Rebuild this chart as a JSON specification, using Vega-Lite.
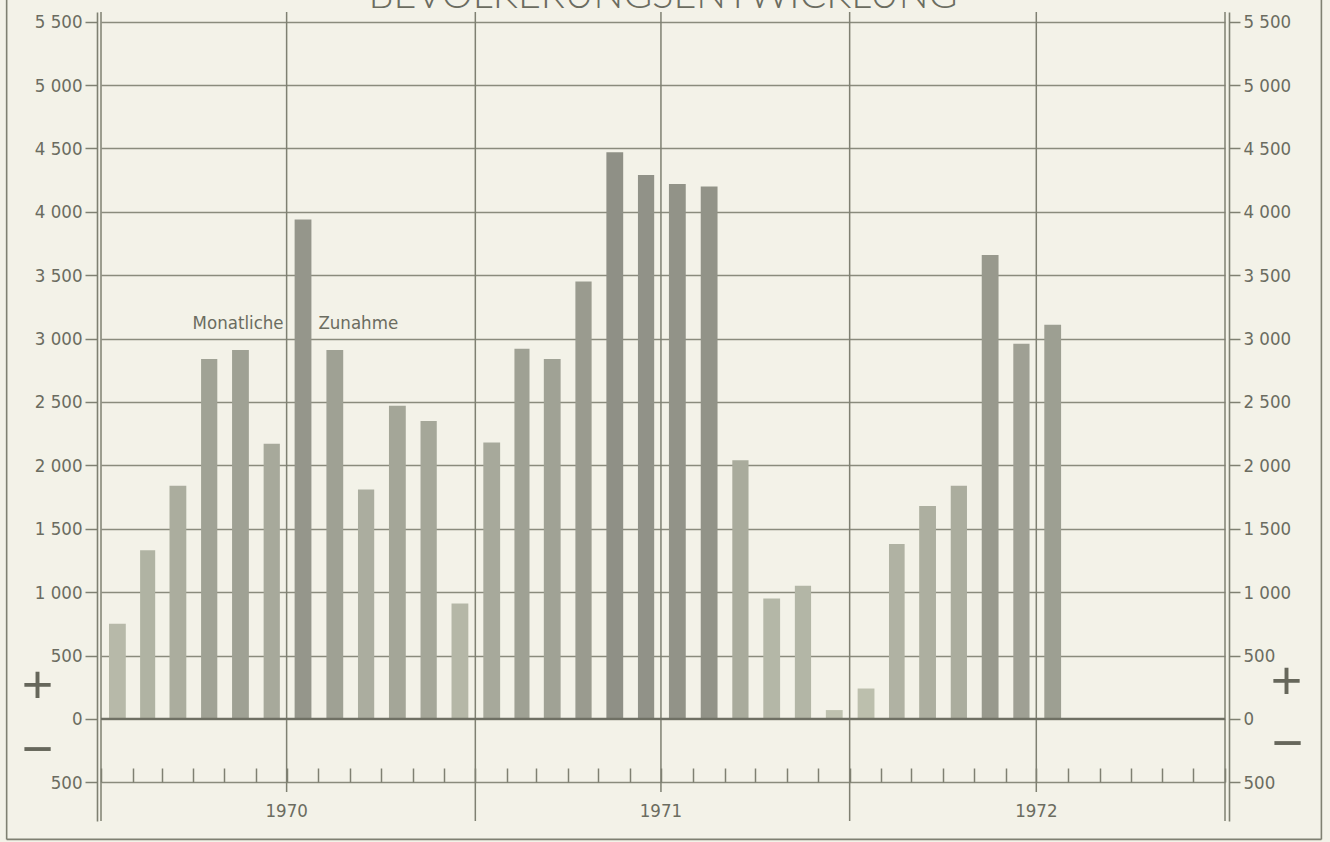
{
  "$schema": "https://vega.github.io/schema/vega-lite/v6.json",
  "width": 1124,
  "height": 809,
  "autosize": {"type": "none"},
  "padding": {"left": 101, "top": 12, "right": 105, "bottom": 21},
  "background": "#f3f2e8",
  "config": {
    "view": {"stroke": null},
    "font": "DejaVu Sans Condensed, Roboto, sans-serif",
    "axis": {
      "labelFont": "DejaVu Sans Condensed, Roboto, sans-serif",
      "labelFontSize": 18.5,
      "labelColor": "#6b6c60",
      "tickColor": "#7f8072",
      "domainColor": "#7f8072",
      "gridColor": "#8a8b7d",
      "tickWidth": 1.5,
      "domainWidth": 1.6,
      "gridWidth": 1.3,
      "title": null
    }
  },
  "layer": [
    {
      "layer": [
        {
          "data": {"values": [{}]},
          "mark": {"type": "rule", "color": "#7f8072", "strokeWidth": 1.6},
          "encoding": {
            "x": {"datum": {"year": 1969, "month": 10, "date": 1, "utc": true}, "type": "temporal", "scale": {"type": "utc", "domain": [{"year": 1970, "month": 1, "date": 1, "utc": true}, {"year": 1973, "month": 1, "date": 1, "utc": true}], "nice": false}},
            "y": {"datum": -950, "type": "quantitative", "scale": {"domain": [-805, 5576], "nice": false, "zero": false}},
            "y2": {"datum": 5700}
          }
        },
        {
          "data": {"values": [{}]},
          "mark": {"type": "rule", "color": "#7f8072", "strokeWidth": 1.6},
          "encoding": {
            "x": {"datum": {"year": 1973, "month": 4, "date": 5, "utc": true}, "type": "temporal"},
            "y": {"datum": -950, "type": "quantitative"},
            "y2": {"datum": 5700}
          }
        },
        {
          "data": {"values": [{}]},
          "mark": {"type": "rule", "color": "#7f8072", "strokeWidth": 1.6},
          "encoding": {
            "x": {"datum": {"year": 1969, "month": 10, "date": 1, "utc": true}, "type": "temporal"},
            "x2": {"datum": {"year": 1973, "month": 4, "date": 5, "utc": true}},
            "y": {"datum": -950, "type": "quantitative"}
          }
        },
        {
          "data": {"values": [{"d": "1970-01-01"}, {"d": "1971-01-01"}, {"d": "1972-01-01"}, {"d": "1973-01-01"}]},
          "mark": {"type": "rule", "color": "#7f8072", "strokeWidth": 1.5},
          "encoding": {
            "x": {"field": "d", "type": "temporal"},
            "y": {"datum": -805, "type": "quantitative"},
            "y2": {"datum": 5576}
          }
        },
        {
          "data": {"values": [{"d": "1970-07-01"}, {"d": "1971-07-01"}, {"d": "1972-07-01"}]},
          "mark": {"type": "rule", "color": "#7f8072", "strokeWidth": 1.5},
          "encoding": {
            "x": {"field": "d", "type": "temporal"},
            "y": {"datum": -576, "type": "quantitative"},
            "y2": {"datum": 5576}
          }
        },
        {
          "data": {
            "values": [
              {"month": "1970-01", "value": 750},
              {"month": "1970-02", "value": 1330},
              {"month": "1970-03", "value": 1840},
              {"month": "1970-04", "value": 2840},
              {"month": "1970-05", "value": 2910},
              {"month": "1970-06", "value": 2170},
              {"month": "1970-07", "value": 3940},
              {"month": "1970-08", "value": 2910},
              {"month": "1970-09", "value": 1810},
              {"month": "1970-10", "value": 2470},
              {"month": "1970-11", "value": 2350},
              {"month": "1970-12", "value": 910},
              {"month": "1971-01", "value": 2180},
              {"month": "1971-02", "value": 2920},
              {"month": "1971-03", "value": 2840},
              {"month": "1971-04", "value": 3450},
              {"month": "1971-05", "value": 4470},
              {"month": "1971-06", "value": 4290},
              {"month": "1971-07", "value": 4220},
              {"month": "1971-08", "value": 4200},
              {"month": "1971-09", "value": 2040},
              {"month": "1971-10", "value": 950},
              {"month": "1971-11", "value": 1050},
              {"month": "1971-12", "value": 70},
              {"month": "1972-01", "value": 240},
              {"month": "1972-02", "value": 1380},
              {"month": "1972-03", "value": 1680},
              {"month": "1972-04", "value": 1840},
              {"month": "1972-05", "value": 3660},
              {"month": "1972-06", "value": 2960},
              {"month": "1972-07", "value": 3110}
            ]
          },
          "mark": {"type": "bar", "width": {"band": 0.56}},
          "encoding": {
            "x": {
              "field": "month",
              "type": "temporal",
              "timeUnit": "utcyearmonth",
              "axis": {
                "orient": "bottom",
                "offset": -39,
                "tickSize": -14,
                "labels": false,
                "domain": false,
                "grid": false,
                "tickCount": {"interval": "month", "step": 1}
              }
            },
            "y": {
              "field": "value",
              "type": "quantitative",
              "axis": {
                "orient": "left",
                "offset": 4,
                "tickSize": 12,
                "labelPadding": 3,
                "grid": true,
                "values": [-500, 0, 500, 1000, 1500, 2000, 2500, 3000, 3500, 4000, 4500, 5000, 5500],
                "labelExpr": "replace(format(abs(datum.value), ','), ',', ' ')"
              }
            },
            "color": {"field": "value", "type": "quantitative", "scale": {"range": ["#bec1af", "#8f9086"]}, "legend": null}
          }
        },
        {
          "data": {"values": [{"t": "Monatliche"}]},
          "mark": {"type": "text", "align": "right", "baseline": "middle", "dx": -3, "fontSize": 18.5, "color": "#6b6c60"},
          "encoding": {
            "x": {"datum": {"year": 1970, "month": 7, "date": 1, "utc": true}, "type": "temporal"},
            "y": {"datum": 3120, "type": "quantitative"},
            "text": {"field": "t"}
          }
        },
        {
          "data": {"values": [{"t": "Zunahme"}]},
          "mark": {"type": "text", "align": "left", "baseline": "middle", "dx": 0, "fontSize": 18.5, "color": "#6b6c60"},
          "encoding": {
            "x": {"datum": {"year": 1970, "month": 8, "date": 1, "utc": true}, "type": "temporal"},
            "y": {"datum": 3120, "type": "quantitative"},
            "text": {"field": "t"}
          }
        },
        {
          "data": {"values": [{"year": "1970", "d": "1970-07-01"}, {"year": "1971", "d": "1971-07-01"}, {"year": "1972", "d": "1972-07-01"}]},
          "mark": {"type": "text", "align": "center", "baseline": "middle", "fontSize": 18.5, "color": "#6b6c60"},
          "encoding": {
            "x": {"field": "d", "type": "temporal"},
            "y": {"datum": -726, "type": "quantitative"},
            "text": {"field": "year"}
          }
        },
        {
          "data": {"values": [{"s": "+"}]},
          "mark": {"type": "text", "align": "center", "baseline": "middle", "font": "Liberation Sans", "fontSize": 54, "color": "#66675b"},
          "encoding": {
            "x": {"datum": {"year": 1969, "month": 10, "date": 31, "utc": true}, "type": "temporal"},
            "y": {"datum": 252, "type": "quantitative"},
            "text": {"field": "s"}
          }
        },
        {
          "data": {"values": [{"s": "−"}]},
          "mark": {"type": "text", "align": "center", "baseline": "middle", "font": "Liberation Sans", "fontSize": 54, "color": "#66675b"},
          "encoding": {
            "x": {"datum": {"year": 1969, "month": 10, "date": 31, "utc": true}, "type": "temporal"},
            "y": {"datum": -253, "type": "quantitative"},
            "text": {"field": "s"}
          }
        },
        {
          "data": {"values": [{"s": "+"}]},
          "mark": {"type": "text", "align": "center", "baseline": "middle", "font": "Liberation Sans", "fontSize": 54, "color": "#66675b"},
          "encoding": {
            "x": {"datum": {"year": 1973, "month": 3, "date": 2, "utc": true}, "type": "temporal"},
            "y": {"datum": 283, "type": "quantitative"},
            "text": {"field": "s"}
          }
        },
        {
          "data": {"values": [{"s": "−"}]},
          "mark": {"type": "text", "align": "center", "baseline": "middle", "font": "Liberation Sans", "fontSize": 54, "color": "#66675b"},
          "encoding": {
            "x": {"datum": {"year": 1973, "month": 3, "date": 3, "utc": true}, "type": "temporal"},
            "y": {"datum": -206, "type": "quantitative"},
            "text": {"field": "s"}
          }
        },
        {
          "data": {"values": [{"t": "BEVÖLKERUNGSENTWICKLUNG"}]},
          "mark": {"type": "text", "align": "center", "baseline": "alphabetic", "font": "Lato", "fontWeight": 300, "fontSize": 39.5, "color": "#6b6c60"},
          "encoding": {
            "x": {"datum": {"year": 1971, "month": 7, "date": 3, "utc": true}, "type": "temporal"},
            "y": {"datum": 5610, "type": "quantitative"},
            "text": {"field": "t"}
          }
        }
      ]
    },
    {
      "data": {"values": [{"v": 0}]},
      "mark": {"type": "rule", "color": "#6f7064", "strokeWidth": 2.2},
      "encoding": {
        "y": {
          "field": "v",
          "type": "quantitative",
          "scale": {"domain": [-805, 5576], "nice": false, "zero": false},
          "axis": {
            "orient": "right",
            "offset": 4,
            "tickSize": 11,
            "labelPadding": 3,
            "grid": false,
            "values": [-500, 0, 500, 1000, 1500, 2000, 2500, 3000, 3500, 4000, 4500, 5000, 5500],
            "labelExpr": "replace(format(abs(datum.value), ','), ',', ' ')"
          }
        }
      }
    }
  ],
  "resolve": {"scale": {"y": "independent"}, "axis": {"y": "independent"}}
}
